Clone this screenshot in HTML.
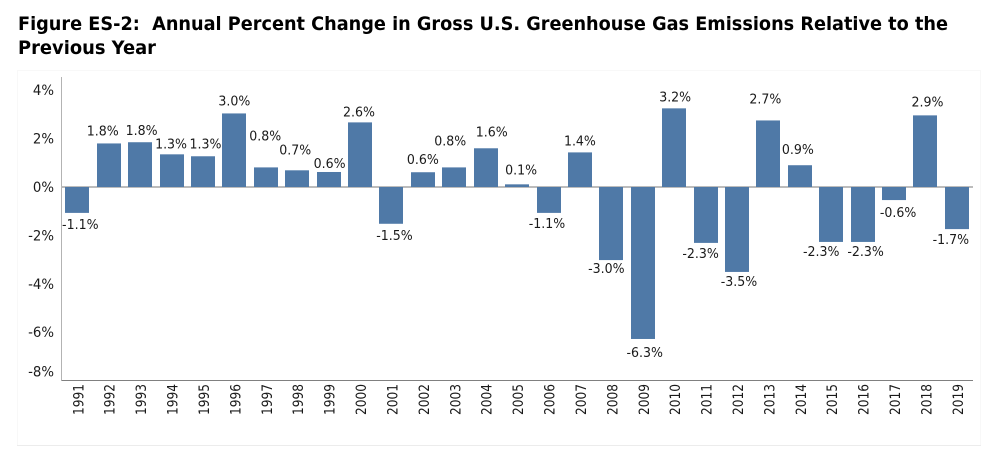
<!DOCTYPE html>
<html lang="en">
<head>
<meta charset="utf-8">
<title>Figure ES-2</title>
<style>
html,body{margin:0;padding:0;background:#fff;}
body{width:1004px;height:455px;overflow:hidden;}
svg{display:block;}
text{font-family:"DejaVu Sans","Liberation Sans",sans-serif;fill:#1a1a1a;}
.title{font-weight:bold;font-size:19px;fill:#000;white-space:pre;}
.lab{font-size:13.6px;}
.tick{font-size:14px;}
.xtick{font-size:14.5px;}
</style>
</head>
<body>
<svg id="chart" width="1004" height="455" viewBox="0 0 1004 455" xmlns="http://www.w3.org/2000/svg">
  <text class="title" x="18" y="30" textLength="930" lengthAdjust="spacingAndGlyphs" xml:space="preserve">Figure ES-2:  Annual Percent Change in Gross U.S. Greenhouse Gas Emissions Relative to the</text>
  <text class="title" x="18" y="54" textLength="138" lengthAdjust="spacingAndGlyphs">Previous Year</text>
  <rect x="17.5" y="70.5" width="963" height="375" fill="#fff" stroke="#f8f8f8"/>
  <line x1="17" x2="981" y1="445.5" y2="445.5" stroke="#ececec"/>
  <g id="axes"></g>
  <g id="bars"></g>
  <g id="labels"></g>
</svg>
<script>
const years = [1991,1992,1993,1994,1995,1996,1997,1998,1999,2000,2001,2002,2003,2004,2005,2006,2007,2008,2009,2010,2011,2012,2013,2014,2015,2016,2017,2018,2019];
const values = [-1.07,1.8,1.85,1.35,1.27,3.04,0.81,0.69,0.62,2.67,-1.52,0.61,0.81,1.6,0.11,-1.07,1.43,-3.02,-6.28,3.25,-2.31,-3.51,2.75,0.9,-2.27,-2.27,-0.54,2.96,-1.74];
const printedLabels = ["-1.1%","1.8%","1.8%","1.3%","1.3%","3.0%","0.8%","0.7%","0.6%","2.6%","-1.5%","0.6%","0.8%","1.6%","0.1%","-1.1%","1.4%","-3.0%","-6.3%","3.2%","-2.3%","-3.5%","2.7%","0.9%","-2.3%","-2.3%","-0.6%","2.9%","-1.7%"];
const yTicks = [4,2,0,-2,-4,-6,-8];
const yTickLabels = ["4%","2%","0%","-2%","-4%","-6%","-8%"];

const NS = "http://www.w3.org/2000/svg";
const plotLeft = 61.5, plotRight = 973, plotTop = 77, plotBottom = 380.5, zeroY = 187, pxPerUnit = 24.2;
const barWidth = 24;
const step = (plotRight - plotLeft - 0.5) / years.length;
const xScale = i => plotLeft + 0.1 + step * (i + 0.5);
const yScale = v => zeroY - v * pxPerUnit;

/* Hand-placed label nudges from the default spot beside each bar (styling, not data). */
const labelNudge = {
  1991:[3,0],1992:[-6,0],1993:[1.5,1],1994:[-0.5,2],1995:[2.5,0],1997:[-0.5,-19],1998:[-2,-8],1999:[1,4],
  2000:[-1,2],2001:[3,0],2003:[-4,-14],2004:[6,-4],2005:[4,-2],2006:[-1.5,-1],2007:[0,1],2008:[-5,-3],2009:[2,2],
  2010:[1,1],2011:[-5,-1],2012:[2,-2],2013:[-3,-9],2014:[-2,-3],2015:[-10,-2],2016:[3,-2],2017:[4,1],2018:[2,-1],2019:[-6,-1]
};

function make(tag, parent, attrs, txt) {
  const el = document.createElementNS(NS, tag);
  for (const k in attrs) el.setAttribute(k, attrs[k]);
  if (txt !== undefined) el.textContent = txt;
  parent.appendChild(el);
  return el;
}
function condense(el, factor) {
  el.setAttribute('textLength', el.getComputedTextLength() * factor);
  el.setAttribute('lengthAdjust', 'spacingAndGlyphs');
}

const barsG = document.getElementById('bars');
const axesG = document.getElementById('axes');
const labelsG = document.getElementById('labels');

const yAxis = make('line', axesG, {x1: plotLeft, x2: plotLeft, y1: plotTop, y2: plotBottom, stroke: '#b3b3b3', 'stroke-width': 1});



const bottomAxis = make('line', axesG, {x1: plotLeft, x2: plotRight, y1: plotBottom, y2: plotBottom, stroke: '#808080', 'stroke-width': 1});



const zeroLine = make('line', axesG, {x1: plotLeft, x2: plotRight, y1: zeroY, y2: zeroY, stroke: '#bcbcbc', 'stroke-width': 2});



years.forEach((year, i) => {
  const v = values[i];
  const cx = xScale(i);
  const top = Math.min(yScale(v), zeroY);
  const h = Math.abs(yScale(v) - zeroY);
  const bar = make('rect', barsG, {x: Math.round(cx - barWidth / 2), y: top, width: barWidth, height: h, fill: '#4f79a7'});
  
  

  const nudge = labelNudge[year] || [0, 0];
  const ly = (v >= 0 ? yScale(v) - 8 : yScale(v) + 16) + nudge[1];
  const label = make('text', labelsG, {class: 'lab', x: cx + nudge[0], y: ly, 'text-anchor': 'middle'}, printedLabels[i]);
  
  
  condense(label, 0.925);

  const tx = cx + 6;
  const xt = make('text', axesG, {class: 'xtick', x: tx, y: 384, 'text-anchor': 'end', transform: 'rotate(-90 ' + tx + ' 384)', textLength: 31, lengthAdjust: 'spacingAndGlyphs'}, year);
  
  
});

yTicks.forEach((t, i) => {
  const y = Math.min(yScale(t), plotBottom - 9);
  const yt = make('text', axesG, {class: 'tick', x: 54, y: y + 5, 'text-anchor': 'end'}, yTickLabels[i]);
  
  
  condense(yt, 0.95);
});
</script>
</body>
</html>
